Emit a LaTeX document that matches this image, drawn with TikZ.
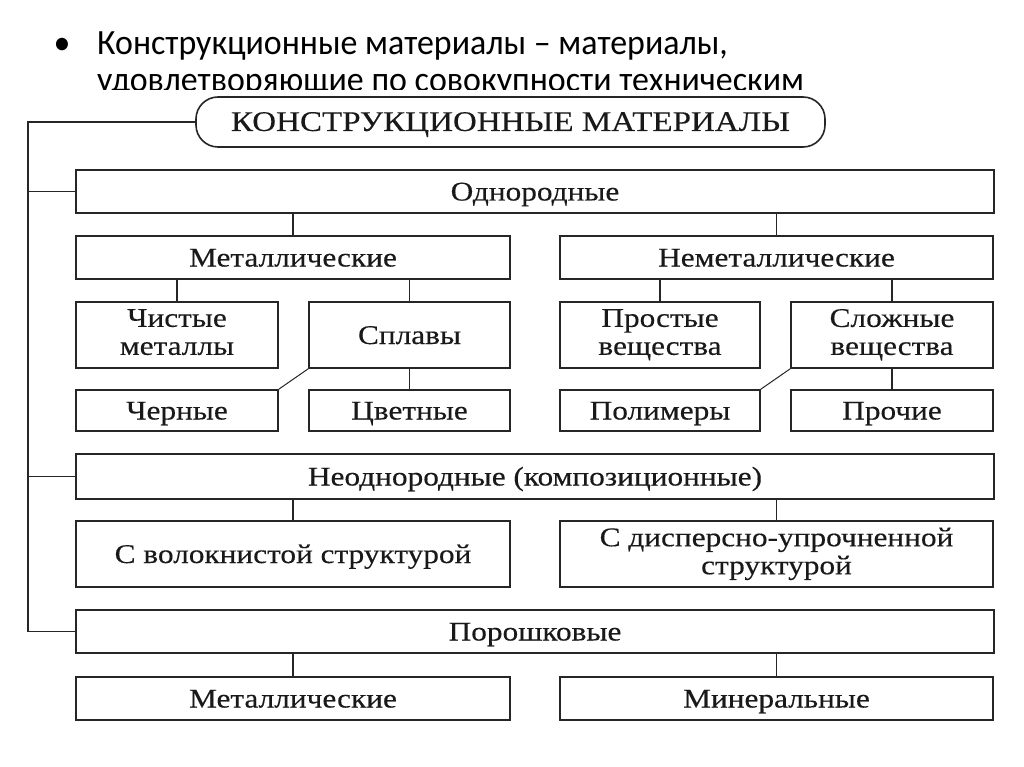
\documentclass[tikz,border=0pt]{standalone}
\usepackage{fontspec}
\setmainfont{Liberation Serif}[FakeStretch=1.16, FakeBold=0.3]
\newfontfamily\slidefont{Carlito}[FakeStretch=0.955]
\begin{document}
\begin{tikzpicture}[x=1pt,y=-1pt,
  bx/.style={draw=black!85, line width=1.6pt, inner sep=0pt, align=center,
    font=\fontsize{27}{28}\selectfont, text=black!90,
    execute at begin node=\rule{0pt}{24pt},
    execute at end node=\rule[-6pt]{0pt}{6pt}},
  ln/.style={draw=black!85, line width=1.4pt},
  slide/.style={anchor=base west, inner sep=0pt, font=\slidefont\fontsize{35.5}{40}\selectfont}]
\useasboundingbox (0,0) rectangle (1024,767);
\fill[white] (0,0) rectangle (1024,767);
% slide text
\node[slide, anchor=base] (bul) at (62,55) {•};
\node[slide] (b1) at (97,55) {Конструкционные материалы – материалы,};
\begin{scope}
  \clip (0,0) rectangle (1024,90);
  \node[slide] (b2) at (97,92) {удовлетворяющие по совокупности техническим};
\end{scope}
% boxes
\node[bx, font=\fontsize{28.5}{30}\selectfont, rounded corners=22pt, minimum width=629pt, minimum height=50pt] (title) at (510.5,122) {КОНСТРУКЦИОННЫЕ МАТЕРИАЛЫ};
\node[bx, minimum width=918pt, minimum height=43pt] (odn) at (535,191.5) {Однородные};
\node[bx, minimum width=434pt, minimum height=43pt] (met) at (293,257.5) {Металлические};
\node[bx, minimum width=433pt, minimum height=43pt] (nemet) at (776.5,257.5) {Неметаллические};
\node[bx, minimum width=202pt, minimum height=66pt] (chist) at (177,335) {Чистые\\металлы};
\node[bx, minimum width=201pt, minimum height=66pt] (splav) at (409.5,335) {Сплавы};
\node[bx, minimum width=200pt, minimum height=66pt] (prost) at (660,335) {Простые\\вещества};
\node[bx, minimum width=202pt, minimum height=66pt] (slozh) at (892,335) {Сложные\\вещества};
\node[bx, minimum width=202pt, minimum height=41pt] (cher) at (177,410.5) {Черные};
\node[bx, minimum width=201pt, minimum height=41pt] (tsvet) at (409.5,410.5) {Цветные};
\node[bx, minimum width=200pt, minimum height=41pt] (polim) at (660,410.5) {Полимеры};
\node[bx, minimum width=202pt, minimum height=41pt] (proch) at (892,410.5) {Прочие};
\node[bx, minimum width=918pt, minimum height=45pt] (neodn) at (535,476.5) {Неоднородные (композиционные)};
\node[bx, minimum width=434pt, minimum height=66pt] (volok) at (293,554) {С волокнистой структурой};
\node[bx, minimum width=433pt, minimum height=66pt] (disp) at (776.5,554) {С дисперсно-упрочненной\\структурой};
\node[bx, minimum width=918pt, minimum height=43pt] (porosh) at (535,631.5) {Порошковые};
\node[bx, minimum width=434pt, minimum height=43pt] (pmet) at (293,698.5) {Металлические};
\node[bx, minimum width=433pt, minimum height=43pt] (miner) at (776.5,698.5) {Минеральные};
% connectors
\coordinate (trunk) at (28,0);
\draw[ln] (title.west) -- (title.west -| trunk) -- (porosh.west -| trunk) -- (porosh.west);
\draw[ln] (odn.west -| trunk) -- (odn.west);
\draw[ln] (neodn.west -| trunk) -- (neodn.west);
\draw[ln] (met.north) -- (met.north |- odn.south);
\draw[ln] (nemet.north) -- (nemet.north |- odn.south);
\draw[ln] (chist.north) -- (chist.north |- met.south);
\draw[ln] (splav.north) -- (splav.north |- met.south);
\draw[ln] (prost.north) -- (prost.north |- nemet.south);
\draw[ln] (slozh.north) -- (slozh.north |- nemet.south);
\draw[ln] (splav.south) -- (tsvet.north);
\draw[ln] (slozh.south) -- (proch.north);
\draw[ln, line width=1pt] (splav.south west) -- (cher.north east);
\draw[ln, line width=1pt] (slozh.south west) -- (polim.north east);
\draw[ln] (volok.north) -- (volok.north |- neodn.south);
\draw[ln] (disp.north) -- (disp.north |- neodn.south);
\draw[ln] (pmet.north) -- (pmet.north |- porosh.south);
\draw[ln] (miner.north) -- (miner.north |- porosh.south);
\end{tikzpicture}
\end{document}
